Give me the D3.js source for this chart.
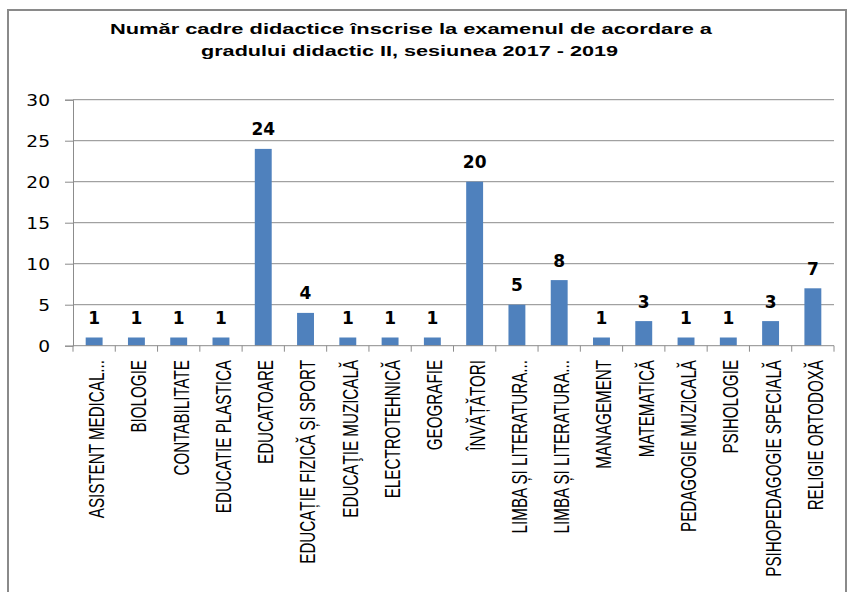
<!DOCTYPE html>
<html>
<head>
<meta charset="utf-8">
<script src="https://cdn.jsdelivr.net/npm/d3@7"></script>
<style>
  html, body { margin: 0; padding: 0; background: #fff; }
  svg { display: block; }
</style>
</head>
<body>
<svg id="chart" width="849" height="592"></svg>
<script>
const titleLines = [
  "Număr cadre didactice înscrise la examenul de acordare a",
  "gradului didactic II, sesiunea 2017 - 2019"
];
const categories = [
  "ASISTENT MEDICAL...", "BIOLOGIE", "CONTABILITATE", "EDUCATIE PLASTICA",
  "EDUCATOARE", "EDUCAȚIE FIZICĂ ȘI SPORT", "EDUCAŢIE MUZICALĂ", "ELECTROTEHNICĂ",
  "GEOGRAFIE", "ÎNVĂȚĂTORI", "LIMBA ȘI LITERATURA...", "LIMBA ȘI LITERATURA...",
  "MANAGEMENT", "MATEMATICĂ", "PEDAGOGIE MUZICALĂ", "PSIHOLOGIE",
  "PSIHOPEDAGOGIE SPECIALĂ", "RELIGIE ORTODOXĂ"
];
const values = [1, 1, 1, 1, 24, 4, 1, 1, 1, 20, 5, 8, 1, 3, 1, 1, 3, 7];
const yTicks = [0, 5, 10, 15, 20, 25, 30];

const svg = d3.select("#chart");
const W = 849, H = 592;
const plot = { left: 73, right: 834, top: 99.7, bottom: 345.7 };
const gridColor = "#8c8c8c";

// outer frame
svg.append("rect")
  .attr("x", 8).attr("y", 10).attr("width", 838).attr("height", 600)
  .attr("fill", "none").attr("stroke", "#8a8a8a").attr("stroke-width", 2);

// title
const titleSpecs = [
  { y: 33.5, x0: 110, x1: 712 },
  { y: 56, x0: 201, x1: 618 }
];
titleLines.forEach((t, i) => {
  const s = titleSpecs[i];
  svg.append("text")
    .attr("x", s.x0).attr("y", s.y)
    .attr("textLength", s.x1 - s.x0)
    .attr("lengthAdjust", "spacingAndGlyphs")
    .attr("font-family", "Liberation Sans, Arial, sans-serif")
    .attr("font-weight", "bold")
    .attr("font-size", 15)
    .attr("fill", "#000")
    .text(t);
});

const idx = categories.map((d, i) => i);
const x = d3.scaleBand().domain(idx).range([plot.left, plot.right])
  .paddingInner(0.6).paddingOuter(0.3);
const y = d3.scaleLinear().domain([0, 30]).range([plot.bottom, plot.top]);

// gridlines
svg.append("g").selectAll("line").data(yTicks.filter(v => v > 0)).join("line")
  .attr("x1", plot.left).attr("x2", plot.right)
  .attr("y1", d => y(d)).attr("y2", d => y(d))
  .attr("stroke", gridColor).attr("stroke-width", 1);

// y axis
const yAxis = svg.append("g")
  .attr("transform", `translate(${plot.left},0)`)
  .call(d3.axisLeft(y).tickValues(yTicks).tickSize(8).tickPadding(0));
yAxis.select(".domain").attr("stroke", gridColor);
yAxis.selectAll(".tick line").attr("stroke", gridColor);
yAxis.selectAll(".tick text")
  .attr("x", 0).attr("dy", "0.36em")
  .attr("transform", "translate(-23,0) scale(1.2,1)")
  .attr("font-family", "DejaVu Sans, Verdana, sans-serif")
  .attr("font-size", 15.5)
  .attr("fill", "#000");

// bars
svg.append("g").selectAll("rect").data(values).join("rect")
  .attr("x", (d, i) => x(i))
  .attr("width", x.bandwidth())
  .attr("y", d => y(d))
  .attr("height", d => y(0) - y(d))
  .attr("fill", "#4F81BD");

// data labels
svg.append("g").selectAll("text").data(values).join("text")
  .attr("x", (d, i) => x(i) + x.bandwidth() / 2)
  .attr("y", d => y(d) - 13.5)
  .attr("text-anchor", "middle")
  .attr("font-family", "DejaVu Sans, Verdana, sans-serif")
  .attr("font-weight", "bold")
  .attr("font-size", 17)
  .attr("fill", "#000")
  .text(d => d);

// x axis line
svg.append("line")
  .attr("x1", plot.left).attr("x2", plot.right)
  .attr("y1", plot.bottom).attr("y2", plot.bottom)
  .attr("stroke", gridColor).attr("stroke-width", 1);

// x ticks between categories
const step = x.step();
const boundaries = d3.range(categories.length + 1).map(i => plot.left + i * step);
svg.append("g").selectAll("line").data(boundaries).join("line")
  .attr("x1", d => d).attr("x2", d => d)
  .attr("y1", plot.bottom).attr("y2", plot.bottom + 6)
  .attr("stroke", gridColor);

// x labels
svg.append("g").selectAll("text").data(categories).join("text")
  .attr("transform", (d, i) => `translate(${x(i) + x.bandwidth() / 2 + 2},360) rotate(-90) scale(0.69,1)`)
  .attr("text-anchor", "end")
  .attr("dy", "0.36em")
  .attr("font-family", "Liberation Sans, Arial, sans-serif")
  .attr("font-size", 22)
  .attr("fill", "#000")
  .text(d => d);
</script>
</body>
</html>
